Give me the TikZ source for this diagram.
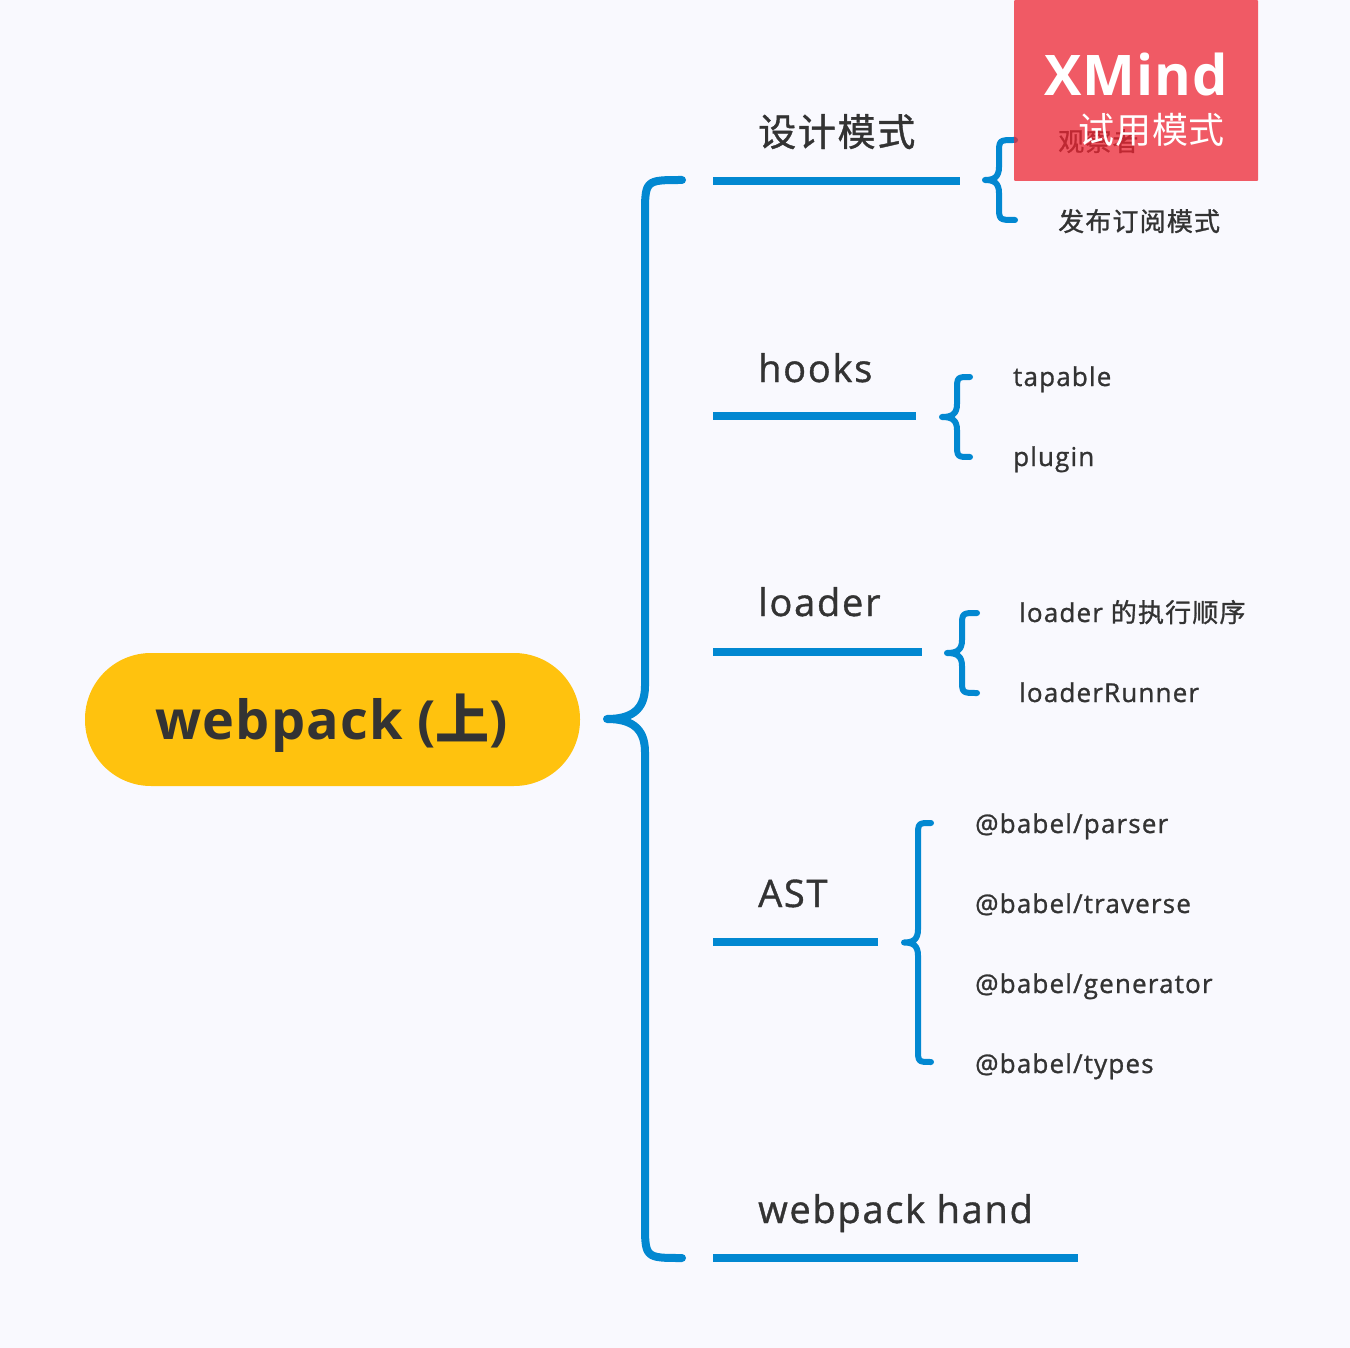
\documentclass[tikz,border=0pt]{standalone}
\usepackage{fontspec}
\setmainfont{Open Sans}[LetterSpace=4.5, FakeBold=1]
\newfontfamily\cjk{Noto Sans CJK SC}[LetterSpace=4.5, FakeBold=1]
\newfontfamily\rootfont{Open Sans}[LetterSpace=2]
\newfontfamily\rootcjk{Noto Sans CJK SC}[LetterSpace=2]
\definecolor{bg}{RGB}{249,249,254}
\definecolor{blu}{RGB}{2,136,209}
\definecolor{txt}{RGB}{51,51,51}
\definecolor{yel}{RGB}{255,194,14}
\definecolor{wm}{RGB}{237,37,50}
\tikzset{
  topic/.style={anchor=base west, inner sep=0pt, text=txt, font=\fontsize{38}{40}\selectfont},
  sub/.style={anchor=base west, inner sep=0pt, text=txt, font=\fontsize{26}{28}\selectfont},
  tline/.style={draw=blu, line width=8pt},
  mbr/.style={draw=blu, line width=8pt, line cap=round, line join=round},
  brc/.style={draw=blu, line width=6pt, line cap=round, line join=round},
}
\newcommand\subbrace[5]{%
 \draw[brc] (#2,#3) .. controls (#1,#3) .. (#1,{#3+14}) -- (#1,{(#3+#4)/2-13})
   .. controls (#1,{(#3+#4)/2-3}) and ({#1-5},{(#3+#4)/2}) .. (#5,{(#3+#4)/2})
   .. controls ({#1-5},{(#3+#4)/2}) and (#1,{(#3+#4)/2+3}) .. (#1,{(#3+#4)/2+13})
   -- (#1,{#4-14}) .. controls (#1,#4) .. (#2,#4);}
\begin{document}
\begin{tikzpicture}[x=1pt,y=-1pt]
\path[use as bounding box, fill=bg] (0,0) rectangle (1350,1348);
% root
\node[fill=yel, rounded corners=66pt, minimum width=495pt, minimum height=133pt, inner sep=0pt] (root) at (332.5,719.5) {};
\node[anchor=base, inner sep=0pt, text=txt, font=\fontsize{54}{56}\selectfont\rootfont\bfseries] (roottext) at (332,739) {webpack ({\rootcjk\bfseries 上})};
% main brace
\coordinate (mtop) at (682,180);
\coordinate (mbot) at (682,1258);
\coordinate (mtip) at (607,719);
\draw[mbr] (mtop) .. controls (645,180) .. (645,216) -- (645,686)
  .. controls (645,711) and (630,719) .. (mtip)
  .. controls (630,719) and (645,727) .. (645,752) -- (645,1222)
  .. controls (645,1258) .. (mbot);
% topics
\node[topic] (t1) at (758,146) {\cjk 设计模式};
\draw[tline] (713,181) coordinate (t1a) -- (960,181) coordinate (t1b);
\node[topic] (t2) at (758,382) {hooks};
\draw[tline] (713,416) coordinate (t2a) -- (916,416) coordinate (t2b);
\node[topic] (t3) at (758,616) {loader};
\draw[tline] (713,652) coordinate (t3a) -- (922,652) coordinate (t3b);
\node[topic] (t4) at (758,907) {AST};
\draw[tline] (713,942) coordinate (t4a) -- (878,942) coordinate (t4b);
\node[topic] (t5) at (758,1223) {webpack hand};
\draw[tline] (713,1258) coordinate (t5a) -- (1078,1258) coordinate (t5b);
% sub braces
\subbrace{999}{1015}{140}{220}{985}
\subbrace{957}{970}{377}{457}{942}
\subbrace{962}{977}{613}{693}{947}
\subbrace{918}{931}{823}{1062}{904}
% sub items
\node[sub] (s11) at (1058,151) {\cjk 观察者};
\node[sub] (s12) at (1058,231) {\cjk 发布订阅模式};
\node[sub] (s21) at (1013,386) {tapable};
\node[sub] (s22) at (1013,466) {plugin};
\node[sub] (s31) at (1019,622) {loader {\cjk 的执行顺序}};
\node[sub] (s32) at (1019,702) {loaderRunner};
\node[sub] (s41) at (975,833) {@babel/parser};
\node[sub] (s42) at (975,913) {@babel/traverse};
\node[sub] (s43) at (975,993) {@babel/generator};
\node[sub] (s44) at (975,1073) {@babel/types};
% watermark
\fill[wm, opacity=0.75, rounded corners=1pt] (1014,0) rectangle (1258,181);
\node[anchor=base, inner sep=0pt, text=white, font=\fontsize{56}{58}\selectfont\rootfont\bfseries] (wm1) at (1136,96) {XMind};
\node[anchor=base east, inner sep=0pt, text=white, font=\fontsize{36}{38}\selectfont\rootcjk] (wm2) at (1225,144) {试用模式};
\end{tikzpicture}
\end{document}
